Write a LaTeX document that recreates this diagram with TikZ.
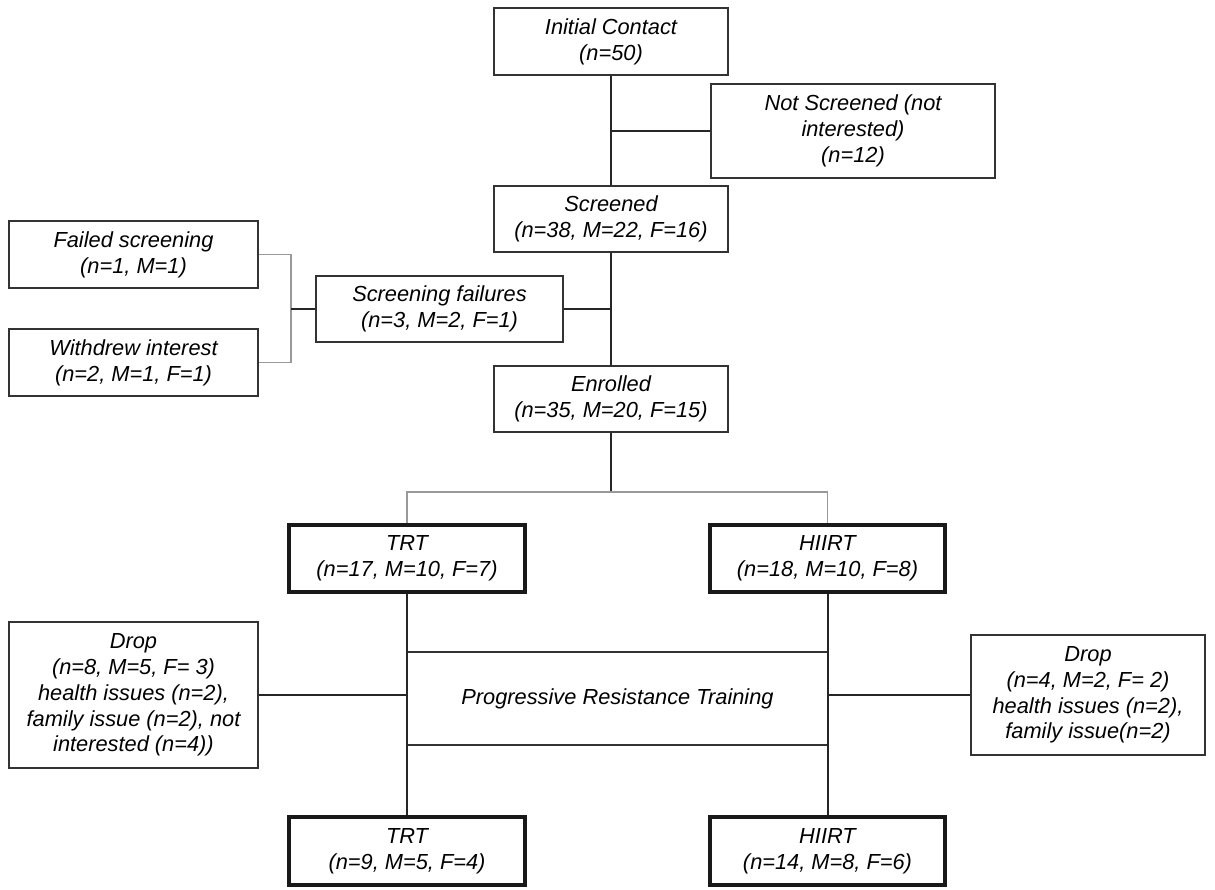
\documentclass[tikz,border=0pt]{standalone}
\usepackage{fontspec}
\setmainfont{Liberation Sans}
\usepackage{tikz}
\usetikzlibrary{positioning, calc}

\begin{document}
\begin{tikzpicture}[
        x=1pt, y=-1pt,
        every node/.style={draw=black!80, line width=1.1pt, rectangle, align=center, inner sep=0pt,
          font=\fontsize{21.8}{25.8}\selectfont\itshape},
        armbox/.style={line width=3.4pt, draw=black!90},
        link/.style={line width=2pt, black!85},
        split/.style={line width=1.4pt, black!40},
    ]
        \useasboundingbox (0,0) rectangle (1215,890);

        \node[minimum width=234, minimum height=67] (contact) at (611,41.5) {Initial Contact\\(n=50)};
        \node[minimum width=284, minimum height=94] (notscreened) at (853,131) {Not Screened (not\\interested)\\(n=12)};
        \node[minimum width=234, minimum height=66] (screened) at (611,219) {Screened\\(n=38, M=22, F=16)};
        \node[minimum width=249, minimum height=67] (failed) at (133.5,254.5) {Failed screening\\(n=1, M=1)};
        \node[minimum width=249, minimum height=67] (withdrew) at (133.5,362.5) {Withdrew interest\\(n=2, M=1, F=1)};
        \node[minimum width=247, minimum height=66] (scrfail) at (439.5,309) {Screening failures\\(n=3, M=2, F=1)};
        \node[minimum width=234, minimum height=66] (enrolled) at (611,399) {Enrolled\\(n=35, M=20, F=15)};

        \node[armbox, minimum width=236, minimum height=67] (trtin) at (407,558.5) {TRT\\(n=17, M=10, F=7)};
        \node[armbox, minimum width=235, minimum height=67] (hiirtin) at (827.5,558.5) {HIIRT\\(n=18, M=10, F=8)};

        \node[minimum width=421, minimum height=93] (prt) at (617.5,698.5) {Progressive Resistance Training};
        \node[minimum width=249, minimum height=146] (dropleft) at (133.5,695) {Drop\\(n=8, M=5, F= 3)\\health issues (n=2),\\family issue (n=2), not\\interested (n=4))};
        \node[minimum width=234, minimum height=120] (dropright) at (1088,695) {Drop\\(n=4, M=2, F= 2)\\health issues (n=2),\\family issue(n=2)};

        \node[armbox, minimum width=236, minimum height=68] (trtout) at (407,851) {TRT\\(n=9, M=5, F=4)};
        \node[armbox, minimum width=235, minimum height=68] (hiirtout) at (827.5,851) {HIIRT\\(n=14, M=8, F=6)};

        \coordinate (fork) at (291,309);
        \coordinate (arms) at (611,492);

        \draw[link] (contact) -- (screened);
        \draw[link] (contact.south |- notscreened.west) -- (notscreened.west);
        \draw[link] (screened) -- (enrolled);
        \draw[link] (scrfail.east) -- (scrfail.east -| screened.south);
        \draw[split] (failed.east) -| (fork) |- (withdrew.east);
        \draw[link] (fork) -- (scrfail.west);

        \draw[link] (enrolled.south) -- (arms);
        \draw[split] (trtin.north) |- (arms) -| (hiirtin.north);

        \draw[link] (trtin) -- (trtout);
        \draw[link] (hiirtin) -- (hiirtout);
        \draw[link] (dropleft.east) -- (dropleft.east -| prt.west);
        \draw[link] (dropright.west) -- (dropright.west -| prt.east);
    \end{tikzpicture}
\end{document}
